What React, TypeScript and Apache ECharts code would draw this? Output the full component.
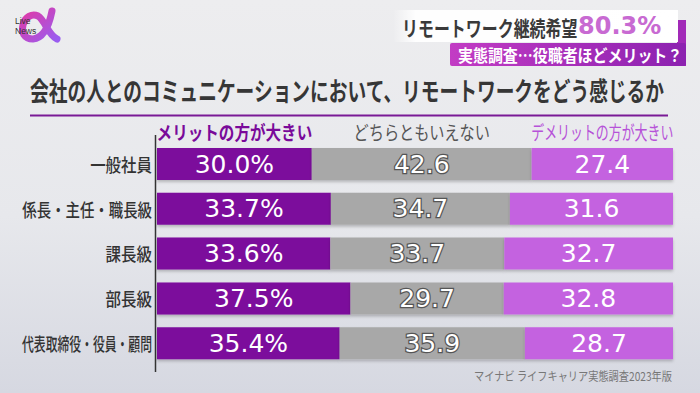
import React, { useEffect, useRef } from 'react';
import * as echarts from 'echarts';

const categories = ['一般社員', '係長・主任・職長級', '課長級', '部長級', '代表取締役・役員・顧問'];
const meritValues = [30.0, 33.7, 33.6, 37.5, 35.4];
const neutralValues = [42.6, 34.7, 33.7, 29.7, 35.9];
const demeritValues = [27.4, 31.6, 32.7, 32.8, 28.7];
const seriesNames = ['メリットの方が大きい', 'どちらともいえない', 'デメリットの方が大きい'];
const headline = 'リモートワーク継続希望';
const headlineValue = '80.3%';
const subhead = '実態調査…役職者ほどメリット？';
const chartTitle = '会社の人とのコミュニケーションにおいて、リモートワークをどう感じるか';
const sourceNote = 'マイナビ ライフキャリア実態調査2023年版';

const COLORS = ['#7b0a9c', '#a8a8a8', '#c462e0'];
const JP = '"Noto Sans CJK JP", "Noto Sans", sans-serif';

let registered = false;
function registerLogo() {
  if (registered) return;
  registered = true;
  echarts.graphic.registerShape(
    'logo',
    echarts.graphic.extendPath(
      'M34 3 C31 18 26 30 15 31 C6 31 3 24 5 17 C7 9 14 5 20 8 C27 12 30 27 39 31',
      {}
    )
  );
}

export default function App() {
  const ref = useRef<HTMLDivElement>(null);
  useEffect(() => {
    registerLogo();
    const chart = echarts.init(ref.current!, null, { renderer: 'svg' });
    const shadow = { shadowBlur: 3, shadowColor: 'rgba(0,0,0,0.22)', shadowOffsetY: 2 };
    const lbl = { show: true, position: 'inside', fontFamily: 'DejaVu Sans', fontSize: 25, color: '#fff' };
    chart.setOption({
      animation: false,
      grid: { left: 157, right: 27, top: 141.6, height: 224 },
      xAxis: { type: 'value', min: 0, max: 100, show: false },
      yAxis: {
        type: 'category', data: categories, inverse: true,
        axisLine: { show: false }, axisTick: { show: false }, axisLabel: { show: false }, splitLine: { show: false },
      },
      series: [
        {
          name: seriesNames[0], type: 'bar', stack: 'a', barWidth: 32, data: meritValues,
          itemStyle: { color: COLORS[0], ...shadow },
          label: { ...lbl, formatter: (p: any) => Number(p.value).toFixed(1) + '%' },
        },
        {
          name: seriesNames[1], type: 'bar', stack: 'a', barWidth: 32, data: neutralValues,
          itemStyle: { color: COLORS[1], ...shadow },
          label: { ...lbl, textBorderColor: '#555', textBorderWidth: 2.5, formatter: (p: any) => Number(p.value).toFixed(1) },
        },
        {
          name: seriesNames[2], type: 'bar', stack: 'a', barWidth: 32, data: demeritValues,
          itemStyle: { color: COLORS[2], ...shadow },
          label: { ...lbl, formatter: (p: any) => Number(p.value).toFixed(1) },
        },
      ],
    });

    const elements: any[] = [];
    // logo
    elements.push({
      type: 'logo', x: 18, y: 8, scaleX: 1, scaleY: 1,
      style: {
        fill: 'none', lineWidth: 7, lineCap: 'round',
        stroke: new echarts.graphic.LinearGradient(0, 0, 1, 1, [
          { offset: 0, color: '#e03aa6' }, { offset: 1, color: '#9a5cf0' },
        ]),
      },
    });
    elements.push({ type: 'text', x: 15, y: 21, style: { text: 'Live', fontSize: 8.5, fontFamily: 'Liberation Sans', fill: '#333', verticalAlign: 'middle' } });
    elements.push({ type: 'text', x: 15, y: 31, style: { text: 'News', fontSize: 8.5, fontFamily: 'Liberation Sans', fill: '#333', verticalAlign: 'middle' } });

    // header boxes
    elements.push({ type: 'rect', shape: { x: 677, y: 20, width: 9, height: 46 }, style: { fill: '#a22ab8' } });
    elements.push({
      type: 'rect', shape: { x: 393, y: 10, width: 285, height: 32 },
      style: {
        fill: new echarts.graphic.LinearGradient(0, 0, 1, 0, [
          { offset: 0, color: 'rgba(255,255,255,0)' }, { offset: 0.08, color: 'rgba(255,255,255,0.95)' }, { offset: 1, color: '#ffffff' },
        ]),
      },
    });
    elements.push({
      type: 'rect', shape: { x: 450, y: 43, width: 236, height: 23, r: 2 },
      style: {
        fill: new echarts.graphic.LinearGradient(0, 0, 1, 0, [
          { offset: 0, color: '#c23cc4' }, { offset: 1, color: '#8c22b0' },
        ]),
      },
    });
    elements.push({
      type: 'text', x: 402, y: 26, scaleX: 0.76,
      style: { text: headline, fontSize: 21, fontWeight: 'bold', fontFamily: JP, fill: '#3a3a3a', verticalAlign: 'middle' },
    });
    elements.push({
      type: 'text', x: 578, y: 26,
      style: { text: headlineValue, fontSize: 24, fontWeight: 'bold', fontFamily: 'DejaVu Sans', fill: '#c86ad2', verticalAlign: 'middle' },
    });
    elements.push({
      type: 'text', x: 458, y: 55, scaleX: 0.88,
      style: { text: subhead, fontSize: 17, fontWeight: 'bold', fontFamily: JP, fill: '#ffffff', verticalAlign: 'middle' },
    });

    // title + underline
    elements.push({
      type: 'text', x: 30, y: 90, scaleX: 0.72,
      style: { text: chartTitle, fontSize: 26, fontWeight: 'bold', fontFamily: JP, fill: '#363636', verticalAlign: 'middle' },
    });
    elements.push({ type: 'line', shape: { x1: 30, y1: 115.5, x2: 668, y2: 115.5 }, style: { stroke: '#7a1a96', lineWidth: 2 } });

    // legend headers over the first row's segments
    const segStarts = [0, meritValues[0], meritValues[0] + neutralValues[0]];
    const segVals = [meritValues[0], neutralValues[0], demeritValues[0]];
    const legendStyle = [
      { fill: '#7a0a9a', fontWeight: 'bold', scaleX: 0.82 },
      { fill: '#555555', fontWeight: 'normal', scaleX: 0.8 },
      { fill: '#b652d8', fontWeight: 'normal', scaleX: 0.68 },
    ];
    seriesNames.forEach((n, i) => {
      const cx = chart.convertToPixel({ xAxisIndex: 0 }, segStarts[i] + segVals[i] / 2) as number;
      elements.push({
        type: 'text', x: cx, y: 132, scaleX: legendStyle[i].scaleX,
        style: {
          text: n, fontSize: 19, fontWeight: legendStyle[i].fontWeight, fontFamily: JP,
          fill: legendStyle[i].fill, align: 'center', verticalAlign: 'middle',
        },
      });
    });

    // category labels and axis line
    const LABEL_FS = 18;
    categories.forEach((c) => {
      const cy = chart.convertToPixel({ yAxisIndex: 0 }, c) as number;
      const sx = Math.min(0.86, 130 / (c.length * LABEL_FS));
      elements.push({
        type: 'text', x: 152, y: cy, scaleX: sx,
        style: { text: c, fontSize: LABEL_FS, fontFamily: JP, fontWeight: 500, fill: '#333', align: 'right', verticalAlign: 'middle' },
      });
    });
    elements.push({ type: 'line', z: -1, shape: { x1: 155.5, y1: 135, x2: 155.5, y2: 372 }, style: { stroke: '#333', lineWidth: 1.5 } });

    // source
    elements.push({
      type: 'text', x: 672, y: 376, scaleX: 0.85,
      style: { text: sourceNote, fontSize: 12, fontFamily: JP, fill: '#777', align: 'right', verticalAlign: 'middle' },
    });

    chart.setOption({ graphic: elements });
    return () => chart.dispose();
  }, []);
  return (
    <div
      ref={ref}
      style={{
        position: 'fixed', left: 0, top: 0, width: 700, height: 393,
        background: 'linear-gradient(180deg, #ededef 0%, #e7e8ec 55%, #d6d8e1 100%)',
      }}
    />
  );
}
